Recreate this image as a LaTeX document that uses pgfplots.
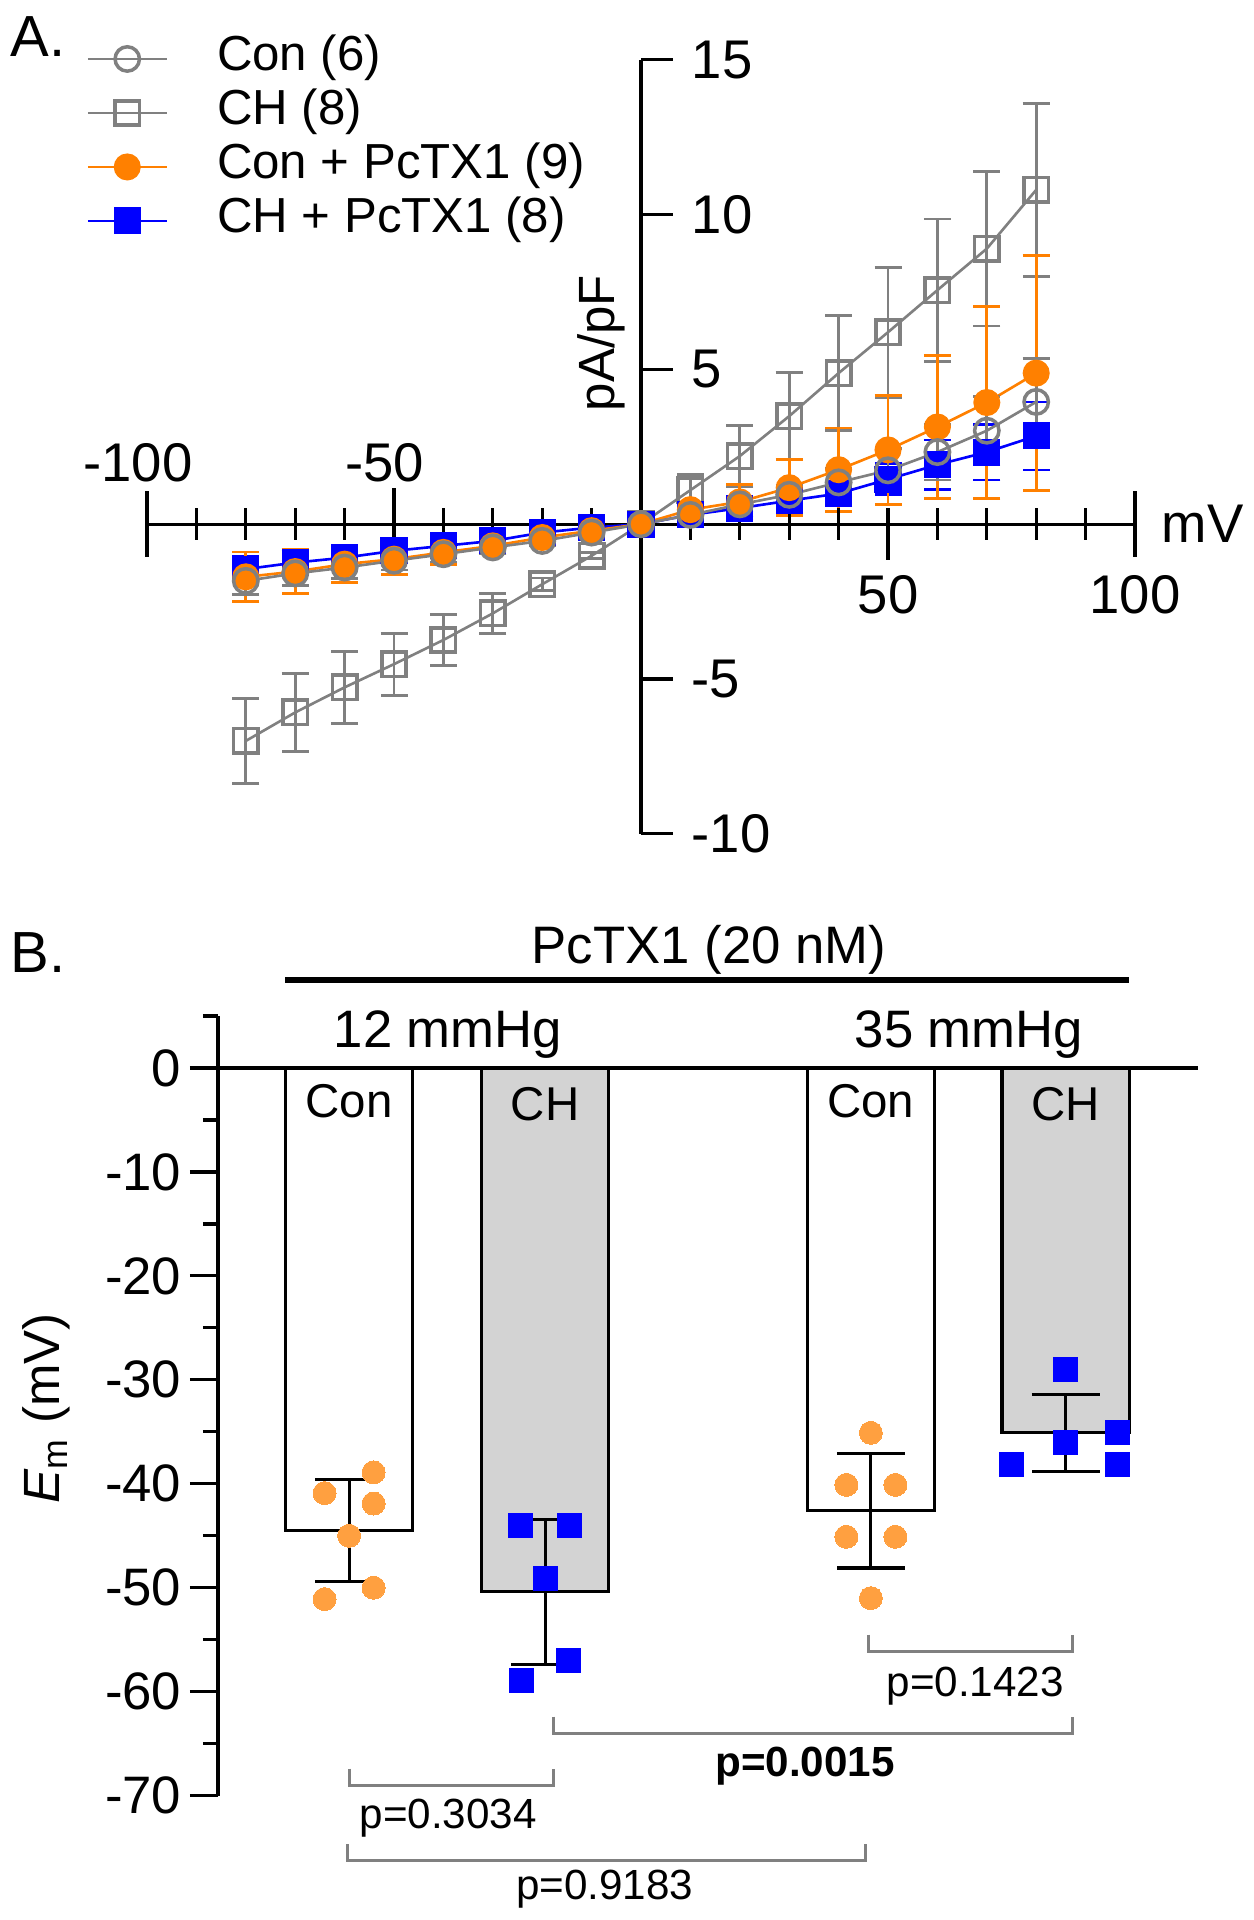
\documentclass[border=0pt]{standalone}
\usepackage{fontspec}
\setmainfont{Liberation Sans}
\usepackage{pgfplots}
\usepackage{pgfplotstable}
\pgfplotsset{compat=1.18}
\definecolor{cgray}{RGB}{128,128,128}
\definecolor{corange}{RGB}{255,128,0}
\definecolor{cblue}{RGB}{0,0,255}
\definecolor{lorange}{RGB}{255,160,64}
\definecolor{barfill}{RGB}{211,211,211}
\newcommand{\tlA}{\fontsize{15.5}{15.5}\selectfont}
\newcommand{\tlB}{\fontsize{15}{15}\selectfont}

\pgfplotstableread{
x y ey
-80 -1.83 0.45
-70 -1.59 0.40
-60 -1.40 0.35
-50 -1.18 0.30
-40 -0.97 0.25
-30 -0.75 0.20
-20 -0.54 0.15
-10 -0.27 0.10
0 0 0.05
10 0.30 0.10
20 0.64 0.20
30 0.95 0.30
40 1.35 0.45
50 1.74 0.70
60 2.33 0.90
70 3.02 1.10
80 3.95 1.40
}\conA
\pgfplotstableread{
x y ey
-80 -7.00 1.37
-70 -6.08 1.27
-60 -5.27 1.16
-50 -4.52 1.00
-40 -3.74 0.83
-30 -2.88 0.65
-20 -1.94 0.20
-10 -1.02 0.10
0 0 0.05
10 1.10 0.50
20 2.20 1.00
30 3.49 1.40
40 4.88 1.85
50 6.20 2.10
60 7.56 2.30
70 8.90 2.50
80 10.80 2.80
}\chA
\pgfplotstableread{
x y ey
-80 -1.70 0.80
-70 -1.53 0.70
-60 -1.29 0.60
-50 -1.13 0.50
-40 -0.91 0.40
-30 -0.70 0.25
-20 -0.43 0.15
-10 -0.21 0.10
0 0 0.05
10 0.47 0.20
20 0.72 0.55
30 1.18 0.90
40 1.76 1.35
50 2.40 1.77
60 3.14 2.30
70 3.93 3.10
80 4.88 3.80
}\conP
\pgfplotstableread{
x y ey
-80 -1.45 0.40
-70 -1.24 0.35
-60 -1.08 0.30
-50 -0.86 0.25
-40 -0.70 0.20
-30 -0.54 0.15
-20 -0.27 0.10
-10 -0.11 0.05
0 0 0.05
10 0.30 0.15
20 0.52 0.25
30 0.76 0.30
40 0.99 0.40
50 1.45 0.50
60 1.92 0.80
70 2.33 0.90
80 2.85 1.10
}\chP
\pgfplotstableread{
x y ey
1 -44.5 4.9
2 -50.4 7.0
3.662 -42.6 5.5
4.656 -35.1 3.7
}\barsB

\tikzset{
  sConA/.style={draw=cgray, line width=0.75pt, mark=o, mark size=1.22mm, mark options={line width=1pt, draw=cgray}},
  sChA/.style={draw=cgray, line width=0.75pt, mark=square, mark size=1.22mm, mark options={line width=1pt, draw=cgray}},
  sConP/.style={draw=corange, line width=0.75pt, mark=*, mark size=1.22mm, mark options={draw=corange, fill=corange}},
  sChP/.style={draw=cblue, line width=0.75pt, mark=square*, mark size=1.22mm, mark options={draw=cblue, fill=cblue}},
}

\begin{document}
\begin{tikzpicture}
\useasboundingbox (0,0) rectangle (125.3mm,-192mm);

% ---------------- Panel A ----------------
\node[anchor=base west, inner sep=0pt, font=\fontsize{16.5}{16.5}\selectfont] at (1mm,-5.63mm) {A.};
\begin{axis}[
  at={(14.7mm,-83.38mm)}, anchor=south west,
  scale only axis, width=98.8mm, height=77.4mm,
  xmin=-100, xmax=100, ymin=-10, ymax=15,
  axis lines=middle,
  axis line style={line width=0.9pt,-},
  every inner x axis line/.append style={-},
  every inner y axis line/.append style={-},
  xtick=\empty, ytick=\empty,
  clip=false,
  legend style={draw=none, fill=none, at={(-0.062,1.033)}, anchor=north west,
     font=\fontsize{14}{14}\selectfont, inner sep=0pt, row sep=0.6mm,
     nodes={inner sep=0pt, text height=3.6mm, text depth=1.2mm},
     /tikz/every odd column/.append style={column sep=4.9mm}},
  legend cell align=left,
  legend image code/.code={\draw[mark repeat=2,mark phase=2,#1] plot coordinates {(0mm,0mm) (3.95mm,0mm) (7.9mm,0mm)};},
]
\addlegendimage{sConA}\addlegendentry{Con (6)}
\addlegendimage{sChA}\addlegendentry{CH (8)}
\addlegendimage{sConP}\addlegendentry{Con + PcTX1 (9)}
\addlegendimage{sChP}\addlegendentry{CH + PcTX1 (8)}

\addplot[sChA, forget plot, error bars/.cd, y dir=both, y explicit,
  error bar style={line width=0.8pt, cgray},
  error mark options={rotate=90, mark size=1.35mm, line width=0.8pt, cgray}]
  table[x=x,y=y,y error=ey]{\chA};
\addplot[sChP, forget plot, error bars/.cd, y dir=both, y explicit,
  error bar style={line width=0.8pt, cblue},
  error mark options={rotate=90, mark size=1.35mm, line width=0.8pt, cblue}]
  table[x=x,y=y,y error=ey]{\chP};
\addplot[sConP, forget plot, error bars/.cd, y dir=both, y explicit,
  error bar style={line width=0.8pt, corange},
  error mark options={rotate=90, mark size=1.35mm, line width=0.8pt, corange}]
  table[x=x,y=y,y error=ey]{\conP};
\addplot[sConA, forget plot, error bars/.cd, y dir=both, y explicit,
  error bar style={line width=0.8pt, cgray},
  error mark options={rotate=90, mark size=1.35mm, line width=0.8pt, cgray}]
  table[x=x,y=y,y error=ey]{\conA};

% ticks
\pgfplotsinvokeforeach{-90,-80,-70,-60,-40,-30,-20,-10,10,20,30,40,60,70,80,90}{
  \draw[line width=0.9pt] ([yshift=1.6mm]axis cs:#1,0) -- ([yshift=-1.6mm]axis cs:#1,0);
}
\draw[line width=0.9pt] ([yshift=3.3mm]axis cs:-100,0) -- ([yshift=-3.3mm]axis cs:-100,0);
\draw[line width=0.9pt] ([yshift=3.3mm]axis cs:100,0) -- ([yshift=-3.3mm]axis cs:100,0);
\draw[line width=0.9pt] ([yshift=3.6mm]axis cs:-50,0) -- ([yshift=-1.6mm]axis cs:-50,0);
\draw[line width=0.9pt] ([yshift=1.6mm]axis cs:50,0) -- ([yshift=-3.6mm]axis cs:50,0);
\pgfplotsinvokeforeach{-10,-5,5,10,15}{
  \draw[line width=0.9pt] (axis cs:0,#1) -- ([xshift=3.2mm]axis cs:0,#1);
}
% tick labels
\node[anchor=base, inner sep=0pt, font=\tlA] at ([yshift=4.3mm]axis cs:-100,0) {\llap{-}100};
\node[anchor=base, inner sep=0pt, font=\tlA] at ([yshift=4.3mm]axis cs:-50,0) {\llap{-}50};
\node[anchor=north, inner sep=0pt, font=\tlA] at ([yshift=-5.1mm]axis cs:50,0) {50};
\node[anchor=north, inner sep=0pt, font=\tlA] at ([yshift=-5.1mm]axis cs:100,0) {100};
\node[anchor=west, inner sep=0pt, font=\tlA] at ([xshift=5mm]axis cs:0,15) {15};
\node[anchor=west, inner sep=0pt, font=\tlA] at ([xshift=5mm]axis cs:0,10) {10};
\node[anchor=west, inner sep=0pt, font=\tlA] at ([xshift=5mm]axis cs:0,5) {5};
\node[anchor=west, inner sep=0pt, font=\tlA] at ([xshift=5mm]axis cs:0,-5) {-5};
\node[anchor=west, inner sep=0pt, font=\tlA] at ([xshift=5mm]axis cs:0,-10) {-10};
\node[anchor=west, inner sep=0pt, font=\tlA] at ([xshift=2.6mm]axis cs:100,0) {mV};
\node[rotate=90, inner sep=0pt, font=\fontsize{14.5}{14.5}\selectfont] at (axis cs:-8.1,5.85) {pA/pF};
\end{axis}

% ---------------- Panel B ----------------
\node[anchor=base west, inner sep=0pt, font=\fontsize{16.5}{16.5}\selectfont] at (1mm,-97.25mm) {B.};
\node[anchor=base, inner sep=0pt, font=\tlB] at (70.9mm,-96.39mm) {PcTX1 (20 nM)};
\draw[line width=0.55mm] (28.54mm,-98.0mm) -- (112.93mm,-98.0mm);
\node[anchor=base, inner sep=0pt, font=\tlB] at (44.8mm,-104.72mm) {12 mmHg};
\node[anchor=base, inner sep=0pt, font=\tlB] at (96.9mm,-104.72mm) {35 mmHg};
\node[rotate=90, inner sep=0pt, font=\fontsize{14.5}{14.5}\selectfont] at (4.65mm,-140.85mm) {\textit{E}\textsubscript{m} (mV)};

\begin{axis}[
  at={(21.8mm,-179.56mm)}, anchor=south west,
  scale only axis, width=98mm, height=77.96mm,
  xmin=0.331, xmax=5.331, ymin=-70, ymax=5,
  axis x line=middle, axis y line=left,
  axis line style={line width=0.9pt,-},
  every inner x axis line/.append style={-},
  every outer y axis line/.append style={-},
  xtick=\empty,
  ytick={-70,-60,-50,-40,-30,-20,-10,0},
  yticklabels={-70,-60,-50,-40,-30,-20,-10,0},
  minor ytick={-65,-55,-45,-35,-25,-15,-5,5},
  tick align=outside, major tick length=2.8mm, minor tick length=1.5mm,
  tick style={line width=0.9pt, black},
  yticklabel style={font=\tlB, inner sep=0pt, xshift=-0.8mm},
  clip=false,
]
\addplot[ybar, bar shift=0pt, bar width=0.65, fill=white, draw=black, line width=0.9pt, forget plot]
  coordinates {(1,-44.5) (3.662,-42.6)};
\addplot[ybar, bar shift=0pt, bar width=0.65, fill=barfill, draw=black, line width=0.9pt, forget plot]
  coordinates {(2,-50.4) (4.656,-35.1)};
\addplot[draw=none, mark=none, forget plot,
  error bars/.cd, y dir=both, y explicit,
  error bar style={draw=black, line width=0.9pt},
  error mark options={draw=black, rotate=90, mark size=3.4mm, line width=0.9pt}]
  table[x=x,y=y,y error=ey]{\barsB};
\addplot[only marks, color=lorange, mark=*, mark size=1.15mm, mark options={draw=lorange, fill=lorange, line width=0pt}, forget plot]
  coordinates {(1.125,-38.9) (0.875,-40.9) (1.125,-41.9) (1.0,-45.0) (1.125,-50.0) (0.875,-51.1)
               (3.662,-35.1) (3.537,-40.1) (3.787,-40.1) (3.537,-45.1) (3.787,-45.1) (3.662,-51.0)};
\addplot[only marks, color=cblue, mark=square*, mark size=1.2mm, mark options={draw=cblue, fill=cblue, line width=0pt}, forget plot]
  coordinates {(1.875,-44.0) (2.125,-44.0) (2.0,-49.1) (2.12,-57.0) (1.878,-58.9)
               (4.656,-29.0) (4.92,-35.1) (4.656,-36.0) (4.381,-38.1) (4.92,-38.1)};

\node[anchor=north, inner sep=0pt, font=\fontsize{13.5}{13.5}\selectfont] at ([yshift=-1.6mm]axis cs:1,0) {Con};
\node[anchor=north, inner sep=0pt, font=\fontsize{13.5}{13.5}\selectfont] at ([yshift=-1.9mm]axis cs:2,0) {CH};
\node[anchor=north, inner sep=0pt, font=\fontsize{13.5}{13.5}\selectfont] at ([yshift=-1.6mm]axis cs:3.662,0) {Con};
\node[anchor=north, inner sep=0pt, font=\fontsize{13.5}{13.5}\selectfont] at ([yshift=-1.9mm]axis cs:4.656,0) {CH};

\draw[cgray, line width=0.85pt] (axis cs:3.649,-54.5) -- (axis cs:3.649,-56.1) -- (axis cs:4.693,-56.1) -- (axis cs:4.693,-54.5);
\draw[cgray, line width=0.85pt] (axis cs:2.045,-62.4) -- (axis cs:2.045,-64.0) -- (axis cs:4.693,-64.0) -- (axis cs:4.693,-62.4);
\draw[cgray, line width=0.85pt] (axis cs:1.002,-67.4) -- (axis cs:1.002,-69.0) -- (axis cs:2.043,-69.0) -- (axis cs:2.043,-67.4);
\draw[cgray, line width=0.85pt] (axis cs:0.991,-74.7) -- (axis cs:0.991,-76.2) -- (axis cs:3.637,-76.2) -- (axis cs:3.637,-74.7);
\node[inner sep=0pt, font=\fontsize{12}{12}\selectfont] at (axis cs:4.194,-59.5) {p=0.1423};
\node[inner sep=0pt, font=\fontsize{12}{12}\selectfont\bfseries] at (axis cs:3.326,-67.2) {p=0.0015};
\node[inner sep=0pt, font=\fontsize{12}{12}\selectfont] at (axis cs:1.505,-72.2) {p=0.3034};
\node[inner sep=0pt, font=\fontsize{12}{12}\selectfont] at (axis cs:2.304,-79.0) {p=0.9183};
\end{axis}
\end{tikzpicture}
\end{document}
